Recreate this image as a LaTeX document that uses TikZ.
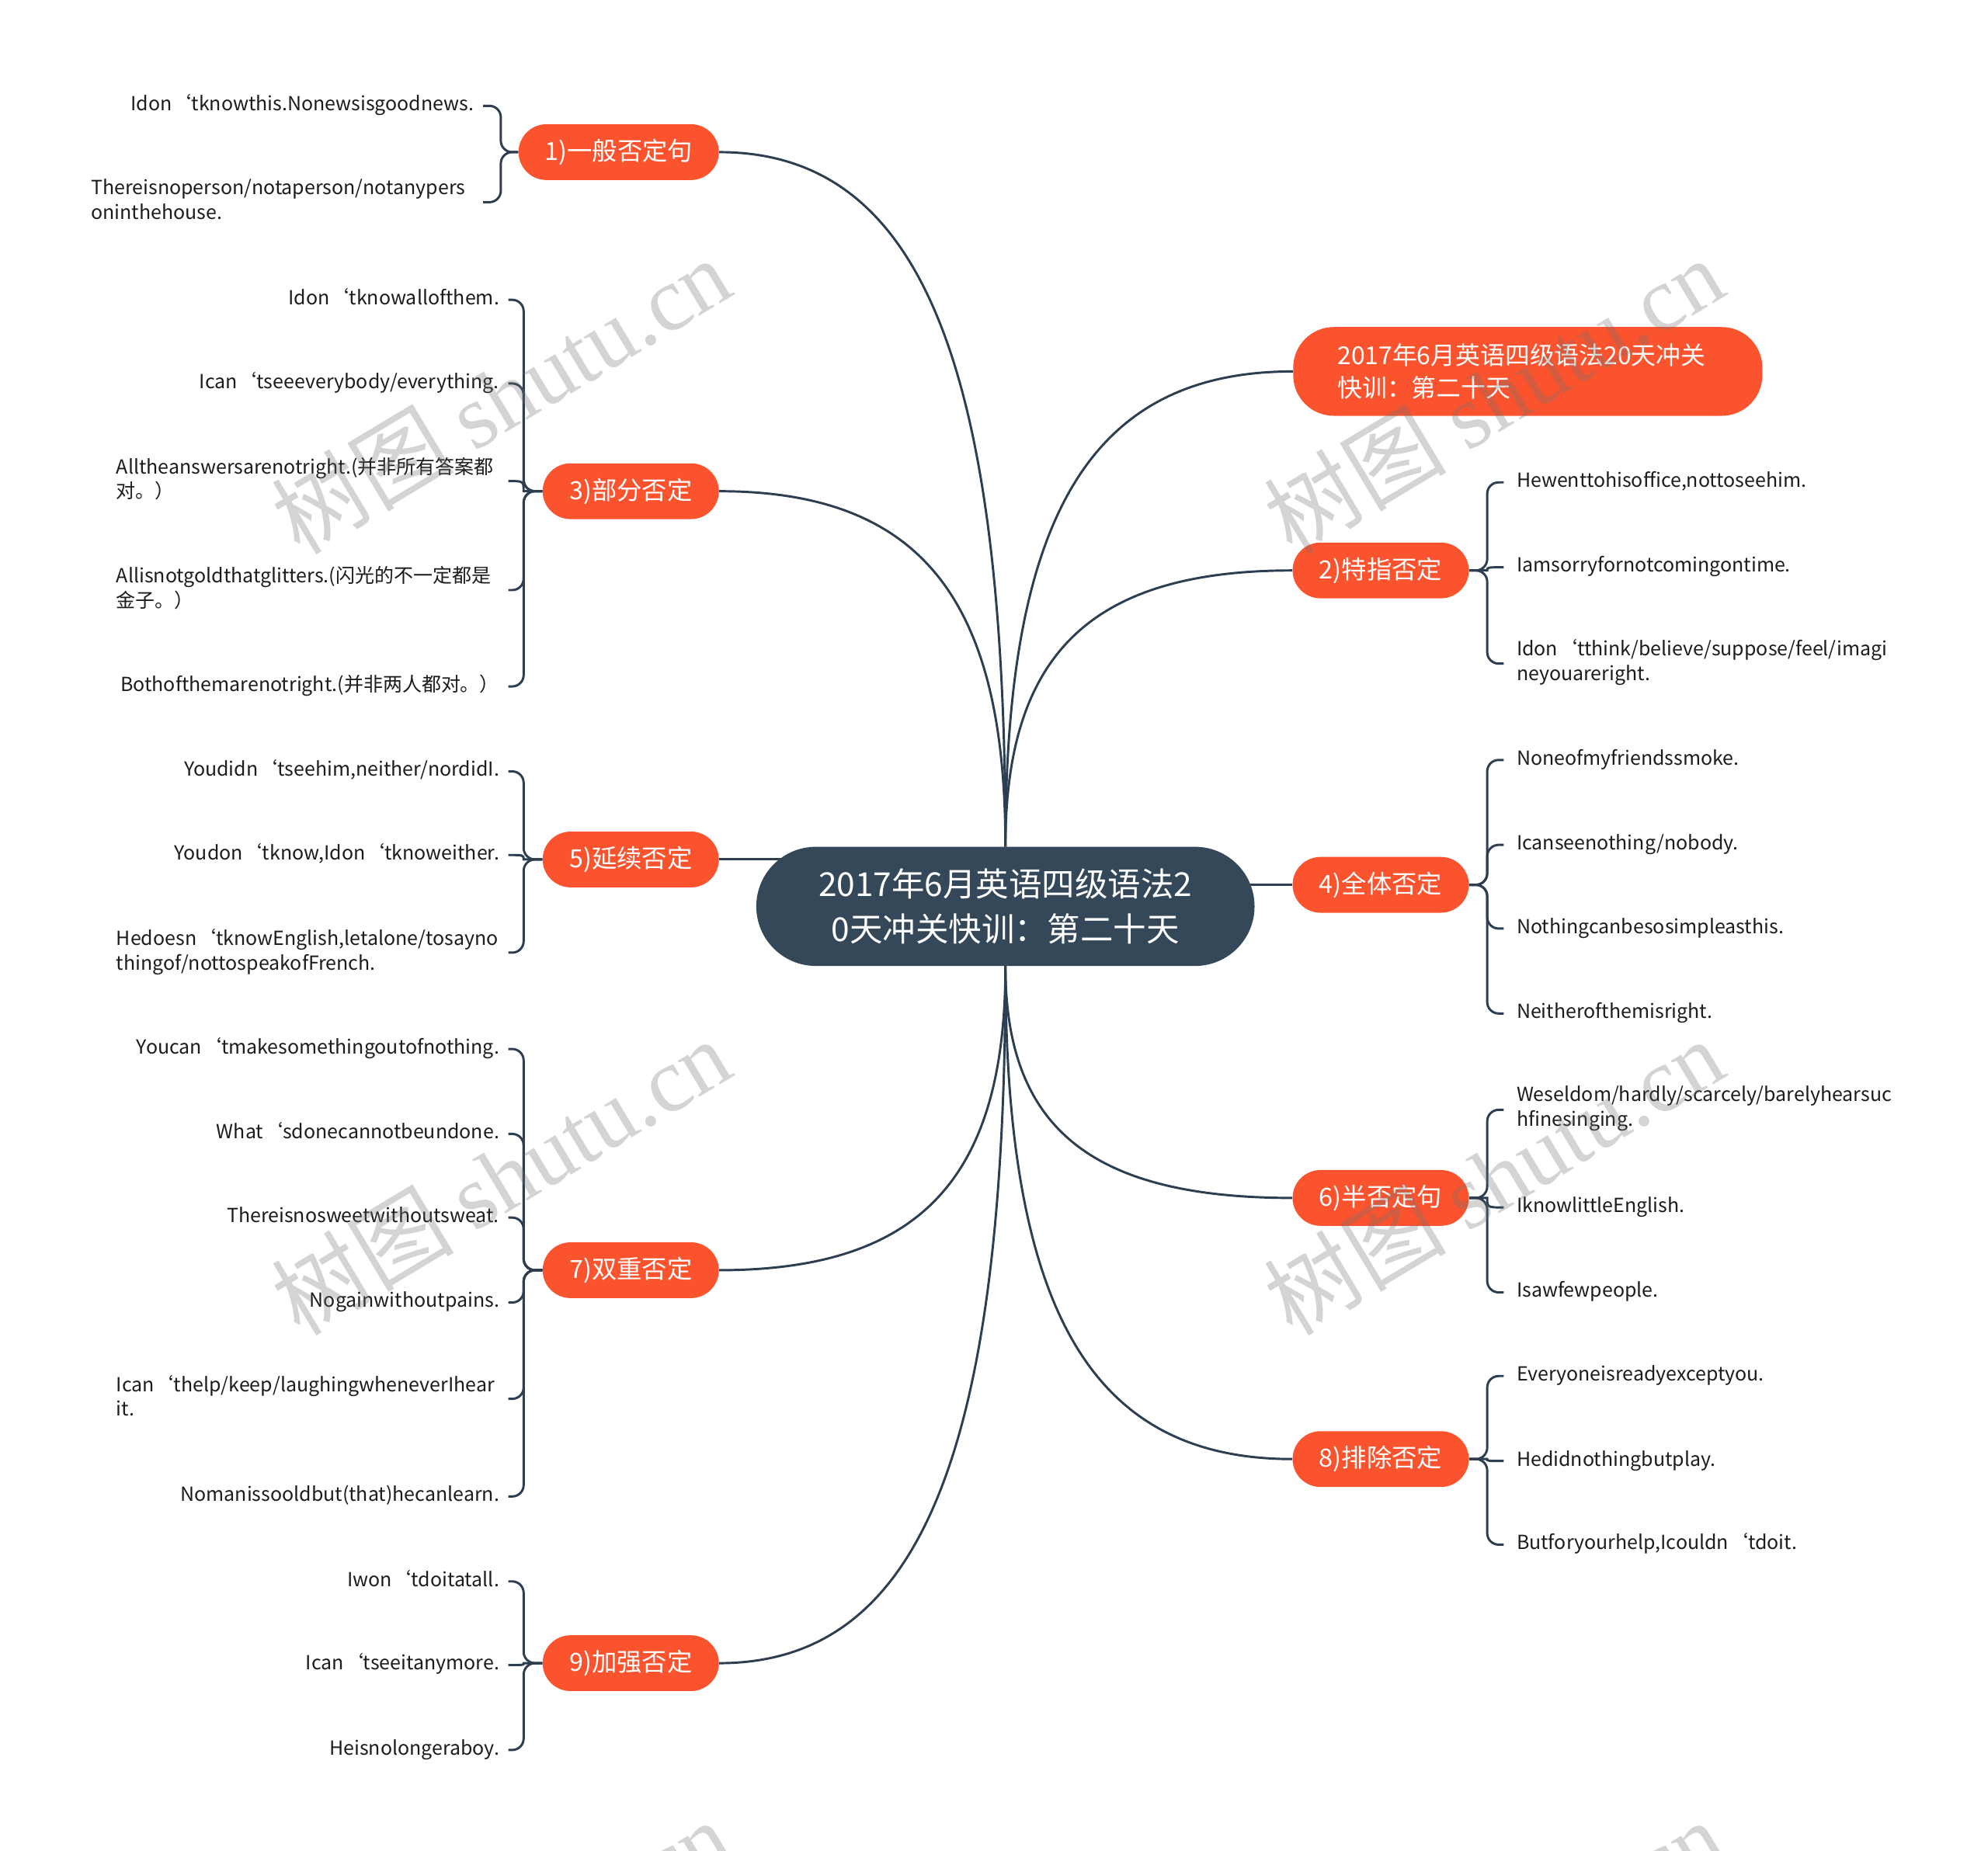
\documentclass[tikz,border=0pt]{standalone}
\usepackage{fontspec}
\setmainfont{Noto Sans CJK SC}
\newfontfamily\wmserif{Liberation Serif}
\usetikzlibrary{calc}
\pgfdeclarelayer{bg}
\pgfsetlayers{bg,main}
\definecolor{lineC}{RGB}{44,62,80}
\definecolor{centerC}{RGB}{53,72,90}
\definecolor{orangeC}{RGB}{251,83,45}
\definecolor{textC}{RGB}{28,28,28}
\hyphenpenalty=10000
\exhyphenpenalty=10000
\newcommand\mmcurve[2]{\draw[conn] (#1) .. controls ($(#1)!0.7!(#1|-#2)$) and ($(#2)!0.7!(#1|-#2)$) .. (#2);}
\newcommand\hookL[3]{\draw[conn,rounded corners=9pt] (#1.west) -- (#1.west -| #2) |- ([xshift=7pt]#3.east);}
\newcommand\hookLs[3]{\draw[conn] (#1.west) -- (#1.west -| #2) .. controls (#2 |- #3.east) .. ([xshift=7pt]#3.east);}
\newcommand\hookR[3]{\draw[conn,rounded corners=9pt] (#1.east) -- (#1.east -| #2) |- ([xshift=-10pt]#3.west);}
\newcommand\hookRs[3]{\draw[conn] (#1.east) -- (#1.east -| #2) .. controls (#2 |- #3.west) .. ([xshift=-10pt]#3.west);}
\tikzset{
  conn/.style={draw=lineC, line width=1.8pt},
  centerbox/.style={fill=centerC, text=white, rounded corners=47pt, minimum width=393pt, minimum height=94pt, align=center, inner sep=0pt, font=\fontsize{26}{36}\selectfont},
  topbox/.style={fill=orangeC, text=white, rounded corners=32pt, minimum height=70pt, text width=300pt, inner xsep=35pt, inner ysep=0pt, align=left, font=\fontsize{19.5}{26}\selectfont},
  br/.style={fill=orangeC, text=white, rounded corners=22pt, minimum height=44pt, minimum width=139pt, inner sep=0pt, font=\fontsize{19.8}{24}\selectfont},
  lf/.style={inner sep=0pt, text=textC, font=\fontsize{15.3}{19.5}\selectfont, execute at begin node=\strut, execute at end node=\strut, yshift=-1.5pt},
  lfL/.style={lf, anchor=east},
  lfR/.style={lf, anchor=west, align=left},
  lfw/.style={lf, anchor=east, text width=302pt, align=left},
  wm/.style={text=black!55, text opacity=0.3, inner sep=0pt, font=\fontsize{72}{72}\selectfont},
}
\begin{document}
\begin{tikzpicture}[x=1pt,y=-1pt]
\useasboundingbox (0,0) rectangle (1568,1460);
\begin{pgfonlayer}{bg}
\fill[white] (0,0) rectangle (1568,1460);
\end{pgfonlayer}

% central and main nodes
\node[centerbox] (c) at (793,715) {2017年6月英语四级语法2\\0天冲关快训：第二十天};
\node[topbox] (t) at (1205,293) {2017年6月英语四级语法20天冲关\\快训：第二十天};
\node[br, minimum width=158pt] (n1) at (488,120) {1)一般否定句};
\node[br] (n3) at (497.5,387.5) {3)部分否定};
\node[br] (n5) at (497.5,678) {5)延续否定};
\node[br] (n7) at (497.5,1002) {7)双重否定};
\node[br] (n9) at (497.5,1312) {9)加强否定};
\node[br] (n2) at (1089,450) {2)特指否定};
\node[br] (n4) at (1089,698) {4)全体否定};
\node[br] (n6) at (1089,945) {6)半否定句};
\node[br] (n8) at (1089,1151) {8)排除否定};

% spines
\coordinate (s1) at (395,0);
\coordinate (sL) at (413,0);
\coordinate (sR) at (1173,0);

% left leaves
\node[lfL] (l11) at (374,82) {Idon‘tknowthis.Nonewsisgoodnews.};
\node[lfw] (l12) at (374,158) {Thereisnoperson/notaperson/notanypers\\oninthehouse.};

\node[lfL] (l31) at (394,235) {Idon‘tknowallofthem.};
\node[lfL] (l32) at (394,301) {Ican‘tseeeverybody/everything.};
\node[lfw] (l33) at (394,378) {Alltheanswersarenotright.(并非所有答案都\\对。）};
\node[lfw] (l34) at (394,464) {Allisnotgoldthatglitters.(闪光的不一定都是\\金子。）};
\node[lfL] (l35) at (394,540) {Bothofthemarenotright.(并非两人都对。）};

\node[lfL] (l51) at (394,607) {Youdidn‘tseehim,neither/nordidI.};
\node[lfL] (l52) at (394,673) {Youdon‘tknow,Idon‘tknoweither.};
\node[lfw] (l53) at (394,750) {Hedoesn‘tknowEnglish,letalone/tosayno\\thingof/nottospeakofFrench.};

\node[lfL] (l71) at (394,826) {Youcan‘tmakesomethingoutofnothing.};
\node[lfL] (l72) at (394,893) {What‘sdonecannotbeundone.};
\node[lfL] (l73) at (394,959) {Thereisnosweetwithoutsweat.};
\node[lfL] (l74) at (394,1026) {Nogainwithoutpains.};
\node[lfw] (l75) at (394,1102) {Ican‘thelp/keep/laughingwheneverIhear\\it.};
\node[lfL] (l76) at (394,1179) {Nomanissooldbut(that)hecanlearn.};

\node[lfL] (l91) at (394,1246) {Iwon‘tdoitatall.};
\node[lfL] (l92) at (394,1312) {Ican‘tseeitanymore.};
\node[lfL] (l93) at (394,1379) {Heisnolongeraboy.};

% right leaves
\node[lfR] (l21) at (1196,379) {Hewenttohisoffice,nottoseehim.};
\node[lfR] (l22) at (1196,446) {Iamsorryfornotcomingontime.};
\node[lfR] (l23) at (1196,522) {Idon‘tthink/believe/suppose/feel/imagi\\neyouareright.};

\node[lfR] (l41) at (1196,598) {Noneofmyfriendssmoke.};
\node[lfR] (l42) at (1196,665) {Icanseenothing/nobody.};
\node[lfR] (l43) at (1196,731) {Nothingcanbesosimpleasthis.};
\node[lfR] (l44) at (1196,798) {Neitherofthemisright.};

\node[lfR] (l61) at (1196,874) {Weseldom/hardly/scarcely/barelyhearsuc\\hfinesinging.};
\node[lfR] (l62) at (1196,951) {IknowlittleEnglish.};
\node[lfR] (l63) at (1196,1018) {Isawfewpeople.};

\node[lfR] (l81) at (1196,1084) {Everyoneisreadyexceptyou.};
\node[lfR] (l82) at (1196,1151) {Hedidnothingbutplay.};
\node[lfR] (l83) at (1196,1217) {Butforyourhelp,Icouldn‘tdoit.};

\begin{pgfonlayer}{bg}
% main connectors
\mmcurve{c.north}{n1.east}
\mmcurve{c.north}{n3.east}
\mmcurve{c.north}{t.west}
\mmcurve{c.north}{n2.west}
\mmcurve{c.south}{n7.east}
\mmcurve{c.south}{n9.east}
\mmcurve{c.south}{n6.west}
\mmcurve{c.south}{n8.west}
\draw[conn] (n5.east) -- (n5.east -| c.center);
\draw[conn] (n4.west) -- (n4.west -| c.center);
% leaf connectors
\hookL{n1}{s1}{l11} \hookL{n1}{s1}{l12}
\hookL{n3}{sL}{l31} \hookL{n3}{sL}{l32} \hookLs{n3}{sL}{l33} \hookL{n3}{sL}{l34} \hookL{n3}{sL}{l35}
\hookL{n5}{sL}{l51} \hookLs{n5}{sL}{l52} \hookL{n5}{sL}{l53}
\hookL{n7}{sL}{l71} \hookL{n7}{sL}{l72} \hookL{n7}{sL}{l73} \hookL{n7}{sL}{l74} \hookL{n7}{sL}{l75} \hookL{n7}{sL}{l76}
\hookL{n9}{sL}{l91} \hookLs{n9}{sL}{l92} \hookL{n9}{sL}{l93}
\hookR{n2}{sR}{l21} \hookRs{n2}{sR}{l22} \hookR{n2}{sR}{l23}
\hookR{n4}{sR}{l41} \hookR{n4}{sR}{l42} \hookR{n4}{sR}{l43} \hookR{n4}{sR}{l44}
\hookR{n6}{sR}{l61} \hookRs{n6}{sR}{l62} \hookR{n6}{sR}{l63}
\hookR{n8}{sR}{l81} \hookRs{n8}{sR}{l82} \hookR{n8}{sR}{l83}
\end{pgfonlayer}

% watermarks
\node[wm, rotate=31] (w1) at (395,312) {树图 {\wmserif shutu.cn}};
\node[wm, rotate=31] (w2) at (1178,312) {树图 {\wmserif shutu.cn}};
\node[wm, rotate=31] (w3) at (395,928) {树图 {\wmserif shutu.cn}};
\node[wm, rotate=31] (w4) at (1178,928) {树图 {\wmserif shutu.cn}};
\node[wm, rotate=31] (w5) at (395,1544) {树图 {\wmserif shutu.cn}};
\node[wm, rotate=31] (w6) at (1178,1544) {树图 {\wmserif shutu.cn}};
\end{tikzpicture}
\end{document}
